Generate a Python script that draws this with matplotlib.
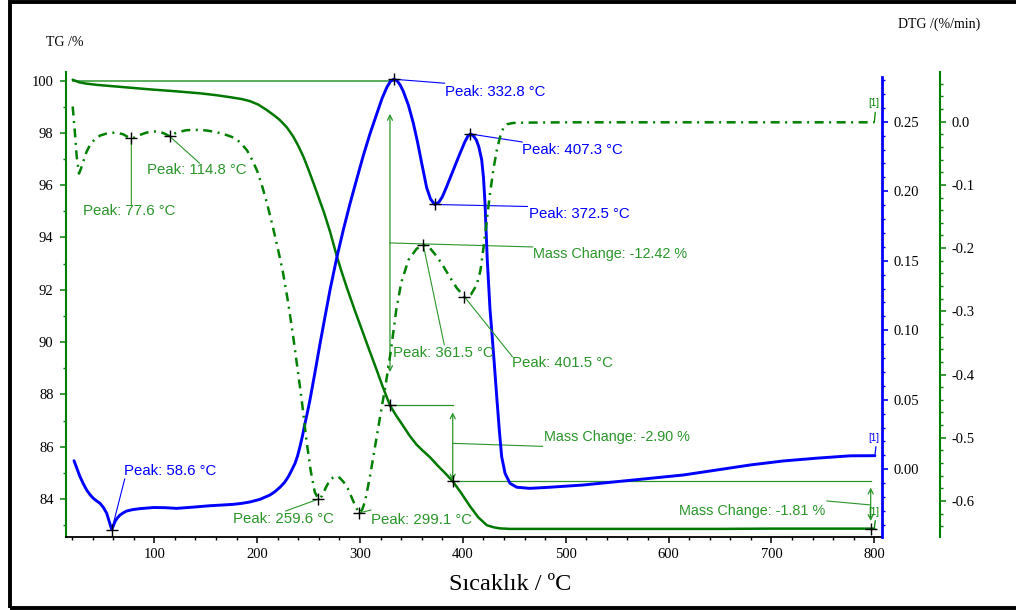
import numpy as np
import matplotlib
matplotlib.use("Agg")
import matplotlib.pyplot as plt
from matplotlib.patches import Rectangle

# ---------------- data ----------------
# TG curve (mass %)
tg_temp = [20.6, 27, 34, 45, 57, 75, 96, 120, 144.5, 160, 174, 185, 193, 201, 209,
           216, 222, 229, 235, 240, 245, 250, 255, 260, 265, 271, 277.3, 282, 287,
           295, 302, 308, 315, 322, 329.1, 335, 341, 348.6, 355, 361, 368, 375, 383,
           390.1, 398, 407, 415, 423.3, 430, 436, 445, 460, 500, 550, 600, 650, 700,
           750, 800]
tg_mass = [100.03, 99.93, 99.88, 99.83, 99.79, 99.73, 99.66, 99.59, 99.51, 99.44,
           99.36, 99.29, 99.21, 99.08, 98.88, 98.68, 98.49, 98.2, 97.86, 97.5, 97.08,
           96.58, 96.05, 95.5, 94.95, 94.2, 93.3, 92.7, 92.1, 91.2, 90.45, 89.8, 89.06,
           88.3, 87.58, 87.2, 86.85, 86.4, 86.08, 85.85, 85.6, 85.3, 84.98, 84.68,
           84.25, 83.72, 83.3, 83.0, 82.92, 82.88, 82.86, 82.86, 82.86, 82.86, 82.86,
           82.86, 82.87, 82.87, 82.87]

# DTG curve plotted in blue (%/min)
dtgb_temp = [21.9, 24.5, 27.7, 31, 34.2, 37.5, 40.7, 44, 47.2, 50.5, 53.7, 56.2, 58.6,
             61.7, 64, 66.6, 70, 73.1, 79, 86, 99, 110, 121.7, 138, 154, 166, 176.8,
             185, 193, 202.7, 212.4, 217, 222.2, 226.5, 230.3, 233.5, 236.8, 239.2,
             241.6, 244, 246.5, 249, 251.3, 256, 261, 266, 270.8, 277.6, 284, 290.2,
             296.5, 302.9, 309.5, 316.4, 321.5, 326.2, 329.5, 332.8, 336, 339, 342,
             347, 351.8, 356, 360, 364.8, 368.5, 372.5, 376.5, 380, 384.2, 390.5,
             397.2, 402, 405, 407.3, 410, 413, 415.5, 418.3, 420, 421.5, 423.7, 426.4,
             428, 430.5, 432.9, 435.4, 437.7, 441, 445.8, 452.3, 465.2, 484.7, 517,
             549.5, 582, 614.3, 646.8, 679.2, 711.5, 744, 776.4, 800.6]
dtgb_val = [0.0062, 0.0010, -0.0053, -0.0105, -0.0149, -0.0183, -0.0209, -0.0228,
            -0.0245, -0.0275, -0.0317, -0.0377, -0.0435, -0.0377, -0.0350, -0.0329,
            -0.0312, -0.0300, -0.0290, -0.0283, -0.0275, -0.0276, -0.0281, -0.0272,
            -0.0262, -0.0257, -0.0252, -0.0245, -0.0235, -0.0216, -0.0185, -0.0162,
            -0.0129, -0.0095, -0.0053, -0.0007, 0.0043, 0.0095, 0.0163, 0.0240,
            0.0331, 0.0415, 0.0499, 0.069, 0.090, 0.110, 0.129, 0.153, 0.173, 0.191,
            0.208, 0.225, 0.241, 0.256, 0.267, 0.275, 0.279, 0.2806, 0.2795, 0.2765,
            0.272, 0.262, 0.249, 0.235, 0.220, 0.2025, 0.1945, 0.1905, 0.192, 0.196,
            0.2033, 0.215, 0.2273, 0.2357, 0.2398, 0.2412, 0.2400, 0.2370, 0.2320,
            0.2225, 0.2100, 0.1914, 0.1506, 0.1146, 0.1002, 0.0763, 0.0522, 0.0283,
            0.0091, -0.0029, -0.0101, -0.0129, -0.0137, -0.0129, -0.0113, -0.0089,
            -0.0065, -0.0041, -0.0005, 0.0031, 0.0060, 0.0080, 0.0097, 0.0098]

# DTG curve plotted in green, dash-dot (%/min)
dtgg_temp = [20.6, 22.8, 24.5, 26.7, 28.5, 30.9, 34, 37.4, 42, 47.2, 53, 60.1, 65, 69.8,
             74, 77.6, 81, 86, 91, 95.8, 100.5, 105.5, 110, 114.8, 119, 124.9, 131,
             137.9, 145, 150.9, 157, 163.8, 170, 176.8, 183, 190, 195, 200, 205, 210,
             215, 220, 225, 230, 235, 240, 244, 248, 252, 256, 259.6, 263, 267, 271,
             275.6, 280, 284, 288, 292, 296, 299.1, 302, 305, 310, 315, 320, 325, 330,
             335, 340, 347, 355, 361.5, 368, 374, 380, 387, 394, 401.5, 408, 413.4,
             417, 420, 423, 426.4, 430, 433, 436, 439.3, 443, 449, 460, 500, 600, 700,
             800]
dtgg_val = [0.024, -0.018, -0.055, -0.082, -0.075, -0.063, -0.048, -0.037, -0.028,
            -0.022, -0.019, -0.0175, -0.018, -0.020, -0.024, -0.0265, -0.025, -0.021,
            -0.018, -0.016, -0.0155, -0.016, -0.019, -0.023, -0.019, -0.016, -0.0135,
            -0.013, -0.013, -0.014, -0.0155, -0.018, -0.021, -0.025, -0.032, -0.045,
            -0.060, -0.078, -0.103, -0.132, -0.165, -0.200, -0.238, -0.285, -0.34,
            -0.40, -0.45, -0.505, -0.552, -0.586, -0.597, -0.592, -0.578, -0.566,
            -0.561, -0.563, -0.570, -0.580, -0.595, -0.610, -0.619, -0.614, -0.600,
            -0.558, -0.510, -0.462, -0.415, -0.362, -0.300, -0.255, -0.219, -0.201,
            -0.195, -0.200, -0.212, -0.226, -0.245, -0.263, -0.277, -0.273, -0.258,
            -0.236, -0.200, -0.160, -0.113, -0.072, -0.045, -0.025, -0.010, -0.004,
            -0.002, -0.0015, -0.001, -0.001, -0.001, -0.001]

blue_peaks = [58.6, 332.8, 407.3, 372.5]
green_peaks = [77.6, 114.8, 259.6, 299.1, 361.5, 401.5]

mass_start_temp = 20.6
mass_start_level = 100.0
mass_change = [-12.42, -2.90, -1.81]
mass_change_temp = [329.1, 390.1, 796.5]

x_ticks = [100, 200, 300, 400, 500, 600, 700, 800]
tg_ticks = [84, 86, 88, 90, 92, 94, 96, 98, 100]
dtgb_ticks = [0.00, 0.05, 0.10, 0.15, 0.20, 0.25]
dtgg_ticks = [-0.6, -0.5, -0.4, -0.3, -0.2, -0.1, 0.0]

# ---------------- styling ----------------
BLUE = "#0000ff"
GREEN = "#008000"
TG_GREEN = "#007800"
NOTE_GREEN = "#2a962a"
SERIF = "Liberation Serif"
SANS = "Liberation Sans"

W, H = 1016, 610
fig = plt.figure(figsize=(W / 100, H / 100), dpi=100)
fig.patch.set_facecolor("white")

L, R, T, B = 66, 882, 72, 537
ax = fig.add_axes([L / W, 1 - B / H, (R - L) / W, (B - T) / H])
ax_b = ax.twinx()
ax_g = ax.twinx()

ax.set_xlim(14.1, 807.5)
ax.set_ylim(82.55, 100.325)
ax_b.set_ylim(-0.0487, 0.2858)
ax_g.set_ylim(-0.657, 0.0786)

for a in (ax, ax_b, ax_g):
    a.patch.set_visible(False)
    for s in ("top",):
        a.spines[s].set_visible(False)
for s in ("right",):
    ax.spines[s].set_visible(False)
for a in (ax_b, ax_g):
    a.spines["left"].set_visible(False)
    a.spines["bottom"].set_visible(False)

ax.spines["left"].set_color(GREEN)
ax.spines["left"].set_linewidth(1.5)
ax.spines["bottom"].set_color("black")
ax.spines["bottom"].set_linewidth(1.3)
ax_b.spines["right"].set_color(BLUE)
ax_b.spines["right"].set_linewidth(2.0)
ax_b.spines["right"].set_bounds(-0.0487, 0.2822)
ax_g.spines["right"].set_color(GREEN)
ax_g.spines["right"].set_linewidth(1.5)
ax_g.spines["right"].set_position(("axes", (940 - L) / (R - L)))

tick_font = dict(fontsize=10.5, fontfamily=SERIF)

ax.set_xticks(x_ticks)
ax.set_xticks(np.arange(20, 801, 20), minor=True)
ax.set_xticklabels([str(v) for v in x_ticks], **tick_font)
ax.tick_params(axis="x", which="major", direction="out", length=4, width=1.1,
               color="black", pad=4)
ax.tick_params(axis="x", which="minor", direction="out", length=2.5, width=1.0,
               color="black")

ax.set_yticks(tg_ticks)
ax.set_yticks(np.arange(83, 101, 1), minor=True)
ax.set_yticklabels([str(v) for v in tg_ticks], **tick_font)
ax.tick_params(axis="y", which="major", direction="out", length=4, width=1.1,
               color=GREEN, pad=5)
ax.tick_params(axis="y", which="minor", direction="out", length=2.5, width=1.0,
               color=GREEN)

ax_b.set_yticks(dtgb_ticks)
ax_b.set_yticks(np.arange(-0.04, 0.2801, 0.01), minor=True)
ax_b.set_yticklabels([f"{v:.2f}" for v in dtgb_ticks], **tick_font)
ax_b.tick_params(axis="y", which="major", direction="out", length=4, width=1.2,
                 color=BLUE, pad=4)
ax_b.tick_params(axis="y", which="minor", direction="out", length=2.5, width=1.0,
                 color=BLUE)

ax_g.set_yticks(dtgg_ticks)
ax_g.set_yticks(np.arange(-0.64, 0.07, 0.02), minor=True)
ax_g.set_yticklabels([f"{v:.1f}" for v in dtgg_ticks], **tick_font)
ax_g.tick_params(axis="y", which="major", direction="out", length=4, width=1.1,
                 color=GREEN, pad=4)
ax_g.tick_params(axis="y", which="minor", direction="out", length=2.5, width=1.0,
                 color=GREEN)

# ---------------- curves ----------------
ax.plot(tg_temp, tg_mass, color=TG_GREEN, lw=1.8, zorder=3, solid_capstyle="round")
ax_b.plot(dtgb_temp, dtgb_val, color=BLUE, lw=2.1, zorder=3, solid_capstyle="round")
dd, = ax_g.plot(dtgg_temp, dtgg_val, color=GREEN, lw=1.8, zorder=3)
dd.set_dashes([3.6, 2.2, 0.8, 2.2])

# ---------------- annotations ----------------
NOTE_FS = 10.8


def peak_note(axis, temp, xs, ys, text, line_px, text_px, color, ha="left"):
    y = float(np.interp(temp, xs, ys))
    axis.annotate("", xy=(temp, y), xytext=line_px, textcoords="offset pixels",
                  arrowprops=dict(arrowstyle="-", color=color, lw=0.8,
                                  shrinkA=0, shrinkB=0), zorder=4)
    axis.annotate(text, xy=(temp, y), xytext=text_px, textcoords="offset pixels",
                  color=color, ha=ha, va="center", fontsize=NOTE_FS,
                  fontfamily=SANS, zorder=5)
    axis.plot([temp], [y], marker="+", color="black", ms=8, mew=1.0, zorder=6)


blue_layout = [((13, 51), (12, 59)),
               ((51, -4), (51, -13)),
               ((52, -8), (52, -16)),
               ((93, -2), (94, -10))]
for t, (lp, tp) in zip(blue_peaks, blue_layout):
    peak_note(ax_b, t, dtgb_temp, dtgb_val, f"Peak: {t:.1f} \u00b0C", lp, tp, BLUE)

green_layout = [((0, -67), (-48, -73)),
                ((30, -27), (-23, -34)),
                ((-33, -12), (-85, -20)),
                ((12, 3), (12, -7)),
                ((21, -100), (-30, -108)),
                ((48, -60), (48, -66))]
for t, (lp, tp) in zip(green_peaks, green_layout):
    peak_note(ax_g, t, dtgg_temp, dtgg_val, f"Peak: {t:.1f} \u00b0C", lp, tp,
              NOTE_GREEN)

# mass change steps on the TG curve
levels = [mass_start_level]
for d in mass_change:
    levels.append(levels[-1] + d)

line_kw = dict(color=NOTE_GREEN, lw=0.9, zorder=2)
# reference level lines
ax.plot([mass_start_temp, mass_change_temp[0] + 3], [levels[0], levels[0]],
        color="#5aae5a", lw=1.4, zorder=2)
ax.plot([mass_change_temp[0], mass_change_temp[1]], [levels[1], levels[1]], **line_kw)
ax.plot([mass_change_temp[1], mass_change_temp[2]], [levels[2], levels[2]], **line_kw)

arrow_shrinks = [(24, 24), (5, 0.5), (4.5, 5.5)]
label_lines = [(143, -4), (90, -3), (-44, 4)]
label_texts = [((143, -11), "left"), ((91, 6), "left"), ((-45, -6), "right")]
for i, d in enumerate(mass_change):
    tx = mass_change_temp[i]
    top, bot = levels[i], levels[i + 1]
    sa, sb = arrow_shrinks[i]
    ax.annotate("", xy=(tx, bot), xytext=(tx, top),
                arrowprops=dict(arrowstyle="<->", color=NOTE_GREEN, lw=0.9,
                                shrinkA=sa, shrinkB=sb, mutation_scale=9), zorder=4)
    mid = (top + bot) / 2
    ax.annotate("", xy=(tx, mid), xytext=label_lines[i], textcoords="offset pixels",
                arrowprops=dict(arrowstyle="-", color=NOTE_GREEN, lw=0.8,
                                shrinkA=0, shrinkB=0), zorder=4)
    (tp, ha) = label_texts[i]
    ax.annotate(f"Mass Change: {d:.2f} %", xy=(tx, mid), xytext=tp,
                textcoords="offset pixels", color=NOTE_GREEN, ha=ha, va="center",
                fontsize=10.4, fontfamily=SANS, zorder=5)
    ax.plot([tx], [bot], marker="+", color="black", ms=8, mew=1.0, zorder=6)

# end-of-curve markers
for axis, xs, ys, col, rise in ((ax_b, dtgb_temp, dtgb_val, BLUE, 9),
                                (ax_g, dtgg_temp, dtgg_val, GREEN, 10),
                                (ax, tg_temp, tg_mass, GREEN, 8)):
    x_end, y_end = xs[-1], ys[-1]
    axis.annotate("", xy=(x_end, y_end), xytext=(1, rise), textcoords="offset pixels",
                  arrowprops=dict(arrowstyle="-", color=col, lw=0.9,
                                  shrinkA=0, shrinkB=0), zorder=4)
    axis.annotate("[1]", xy=(x_end, y_end), xytext=(-1, rise + 9),
                  textcoords="offset pixels", color=col, ha="center", va="center",
                  fontsize=7, fontfamily=SANS, zorder=5)

# ---------------- axis titles and frame ----------------
fig.text(45.7 / W, 1 - 43 / H, "TG /%", ha="left", va="center", fontsize=10,
         fontfamily=SERIF)
fig.text(897.7 / W, 1 - 24 / H, "DTG /(%/min)", ha="left", va="center", fontsize=10,
         fontfamily=SERIF)
fig.text(510 / W, 1 - 584 / H, "S\u0131cakl\u0131k / \u00baC", ha="center",
         va="center", fontsize=17.5, fontfamily=SERIF)

fig.patches.append(Rectangle((9.8 / W, 2.2 / H), 1.1, (608 - 2.2) / H,
                             transform=fig.transFigure, fill=False,
                             edgecolor="black", lw=2.8, clip_on=False))

fig.savefig("out.png", dpi=100)
